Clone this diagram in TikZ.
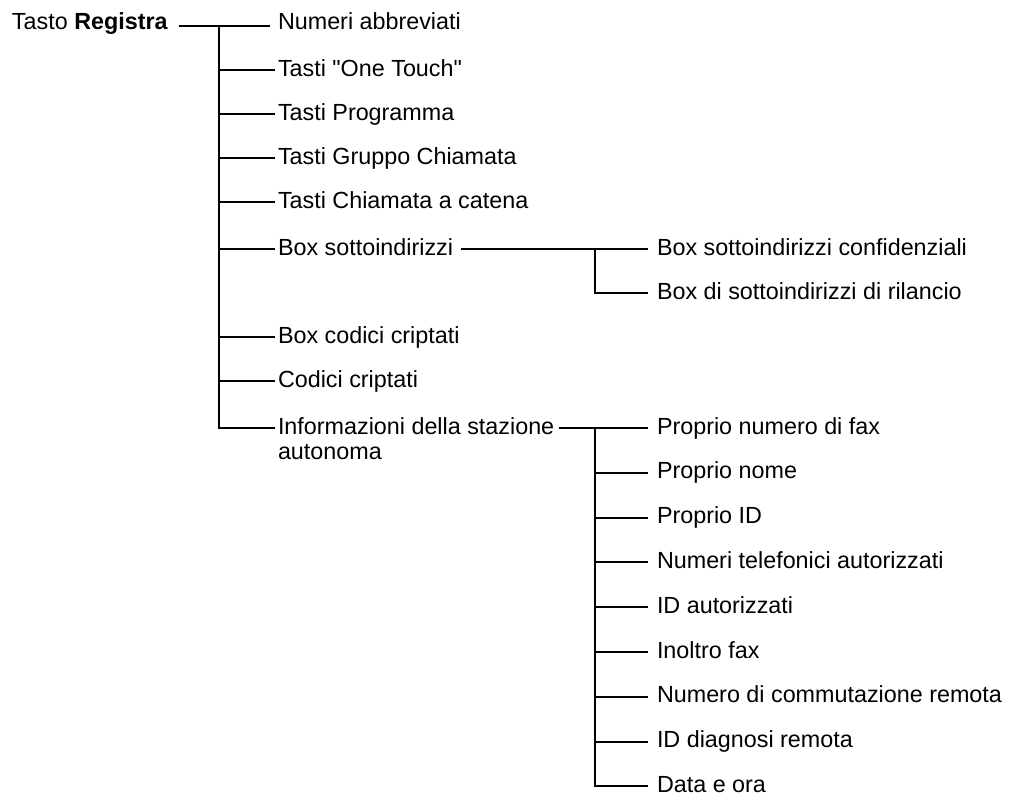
\documentclass[tikz,border=0pt]{standalone}
\usepackage{fontspec}
\setmainfont{Liberation Sans}[Ligatures=TeXOff]
\begin{document}
\begin{tikzpicture}[x=0.75pt,y=-0.75pt,
  every node/.style={inner sep=0pt, outer sep=0pt, anchor=base west, font=\fontsize{17.5}{18.75}\selectfont},
  conn/.style={line width=1.5pt}]
\useasboundingbox (0,0) rectangle (1013,796);
% root and first level
\node (root) at (12,29) {Tasto \textbf{Registra}};
\node (a1) at (278,29) {Numeri abbreviati};
\node (a2) at (278,76) {Tasti "One Touch"};
\node (a3) at (278,120) {Tasti Programma};
\node (a4) at (278,164) {Tasti Gruppo Chiamata};
\node (a5) at (278,208) {Tasti Chiamata a catena};
\node (a6) at (278,255) {Box sottoindirizzi};
\node (a7) at (278,343) {Box codici criptati};
\node (a8) at (278,387) {Codici criptati};
\node (a9) at (278,434) {\begin{tabular}[t]{@{}l@{}}Informazioni della stazione\\autonoma\end{tabular}};
% second level under Box sottoindirizzi
\node (b1) at (657,255) {Box sottoindirizzi confidenziali};
\node (b2) at (657,299) {Box di sottoindirizzi di rilancio};
% second level under Informazioni
\foreach \t [count=\k from 0] in {Proprio numero di fax,Proprio nome,Proprio ID,Numeri telefonici autorizzati,ID autorizzati,Inoltro fax,Numero di commutazione remota,ID diagnosi remota,Data e ora}
  \node (c\k) at (657,{434+44.8*\k}) {\t};
% junctions
\coordinate (j1) at (219,26);
\coordinate (j2) at (595,249);
\coordinate (j3) at (595,428);
% connectors
\draw[conn] ([xshift=8.25pt,yshift=2.25pt]root.base east) -- ([xshift=-6pt,yshift=2.25pt]a1.base west);
\foreach \i in {2,...,9}
  \draw[conn] (j1) |- ([xshift=-2.25pt,yshift=4.5pt]a\i.base west);
\draw[conn] ([xshift=6pt,yshift=4.5pt]a6.base east) -- ([xshift=-6.75pt,yshift=4.5pt]b1.base west);
\draw[conn] (j2) |- ([xshift=-6.75pt,yshift=4.5pt]b2.base west);
\draw[conn] ([xshift=3.75pt,yshift=4.5pt]a9.base east) -- ([xshift=-6.75pt,yshift=4.5pt]c0.base west);
\foreach \k in {1,...,8}
  \draw[conn] (j3) |- ([xshift=-6.75pt,yshift=4.5pt]c\k.base west);
\end{tikzpicture}
\end{document}
